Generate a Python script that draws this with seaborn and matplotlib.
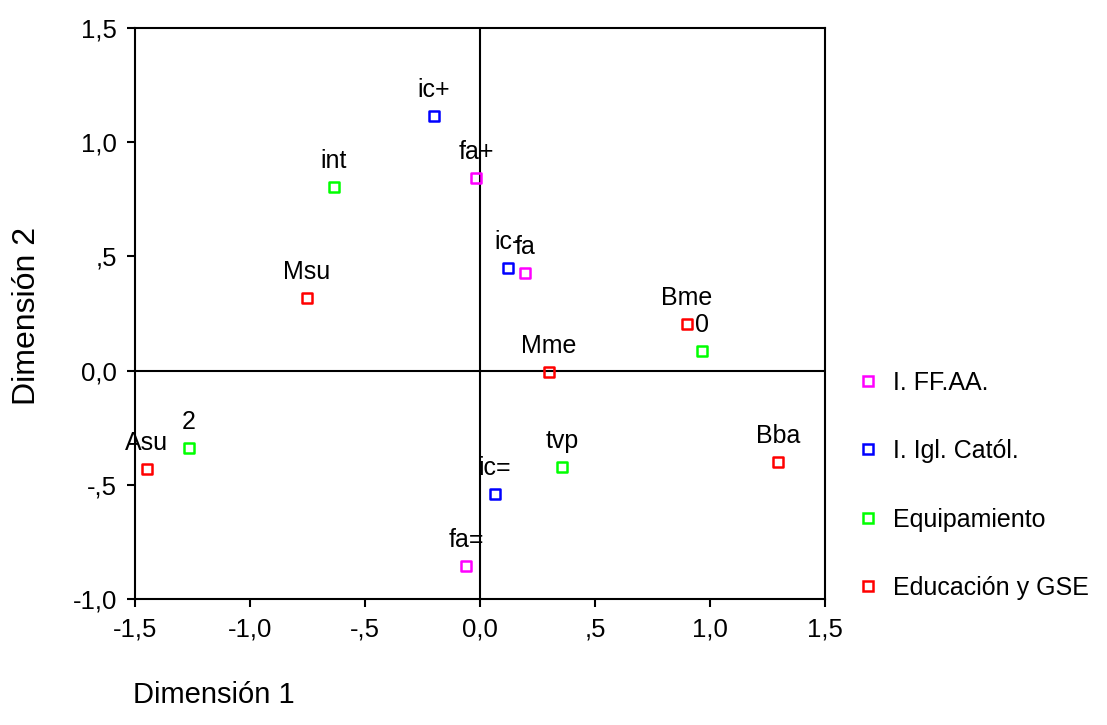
import matplotlib
matplotlib.use("Agg")
import matplotlib.pyplot as plt
import seaborn as sns
import pandas as pd
from matplotlib.lines import Line2D

groups = ["I. FF.AA.", "I. Igl. Catól.", "Equipamiento", "Educación y GSE"]
colors = ["#FF00FF", "#0000FF", "#00FF00", "#FF0000"]

labels_ffaa = ["fa+", "fa", "fa="]
x_ffaa = [-0.017, 0.196, -0.061]
y_ffaa = [0.843, 0.427, -0.855]

labels_igl = ["ic+", "ic-", "ic="]
x_igl = [-0.200, 0.122, 0.065]
y_igl = [1.114, 0.449, -0.540]

labels_eq = ["int", "0", "2", "tvp"]
x_eq = [-0.635, 0.965, -1.265, 0.357]
y_eq = [0.803, 0.086, -0.339, -0.422]

labels_edu = ["Msu", "Bme", "Mme", "Asu", "Bba"]
x_edu = [-0.752, 0.900, 0.300, -1.448, 1.296]
y_edu = [0.318, 0.204, -0.006, -0.431, -0.400]

xticks = [-1.5, -1.0, -0.5, 0.0, 0.5, 1.0, 1.5]
xticklabels = ["-1,5", "-1,0", "-,5", "0,0", ",5", "1,0", "1,5"]
yticks = [-1.0, -0.5, 0.0, 0.5, 1.0, 1.5]
yticklabels = ["-1,0", "-,5", "0,0", ",5", "1,0", "1,5"]

rows = []
for g, labs, xs, ys in zip(groups,
                           [labels_ffaa, labels_igl, labels_eq, labels_edu],
                           [x_ffaa, x_igl, x_eq, x_edu],
                           [y_ffaa, y_igl, y_eq, y_edu]):
    for l, x, y in zip(labs, xs, ys):
        rows.append({"grupo": g, "label": l, "x": x, "y": y})
df = pd.DataFrame(rows)

sns.set_theme(style="white")
plt.rcParams["font.family"] = ["Liberation Sans", "DejaVu Sans"]
plt.rcParams["text.color"] = "black"

fig = plt.figure(figsize=(11.07, 7.25), dpi=100)
ax = fig.add_axes([135/1107, 1 - 599/725, (825-135)/1107, (599-28)/725])

ax.axhline(0, color="black", lw=1.5, zorder=1)
ax.axvline(0, color="black", lw=1.5, zorder=1)

pal = dict(zip(groups, colors))
for g in groups:
    sub = df[df.grupo == g]
    sns.scatterplot(data=sub, x="x", y="y", ax=ax, marker="s", s=55,
                    facecolors="none", edgecolor=pal[g], linewidth=1.8,
                    zorder=3, legend=False)
for _, r in df.iterrows():
    ax.annotate(r["label"], (r["x"], r["y"]), xytext=(0, 13.5),
                textcoords="offset points", ha="center", va="baseline",
                fontsize=18, color="black", zorder=4)

ax.set_xlim(-1.5, 1.5)
ax.set_ylim(-1.0, 1.5)
ax.set_xticks(xticks)
ax.set_xticklabels(xticklabels, fontsize=18.5)
ax.set_yticks(yticks)
ax.set_yticklabels(yticklabels, fontsize=18.5)
ax.tick_params(axis="both", direction="out", length=6, width=1.5,
               color="black", labelcolor="black", bottom=True, left=True)
ax.tick_params(axis="x", pad=7)
ax.tick_params(axis="y", pad=7)
for sp in ax.spines.values():
    sp.set_color("black")
    sp.set_linewidth(1.5)
ax.set_xlabel("")
ax.set_ylabel("")

fig.text(133/1107, 1 - 703/725, "Dimensión 1", fontsize=21, ha="left",
         va="baseline", color="black")
fig.text(27/1107, 1 - 316/725, "Dimensión 2", fontsize=23, ha="center",
         va="center", rotation=90, color="black")

handles = [Line2D([], [], marker="s", linestyle="none", markersize=7,
                  markerfacecolor="none", markeredgecolor=c, markeredgewidth=1.8)
           for c in colors]
leg = fig.legend(handles, groups, loc="upper left",
                 bbox_to_anchor=(843/1107, 1 - 358/725), frameon=False,
                 fontsize=18, labelspacing=1.78, handletextpad=0.5,
                 handlelength=1.0, borderpad=0)
for t in leg.get_texts():
    t.set_color("black")

fig.savefig("out.png", dpi=100, facecolor="white")
